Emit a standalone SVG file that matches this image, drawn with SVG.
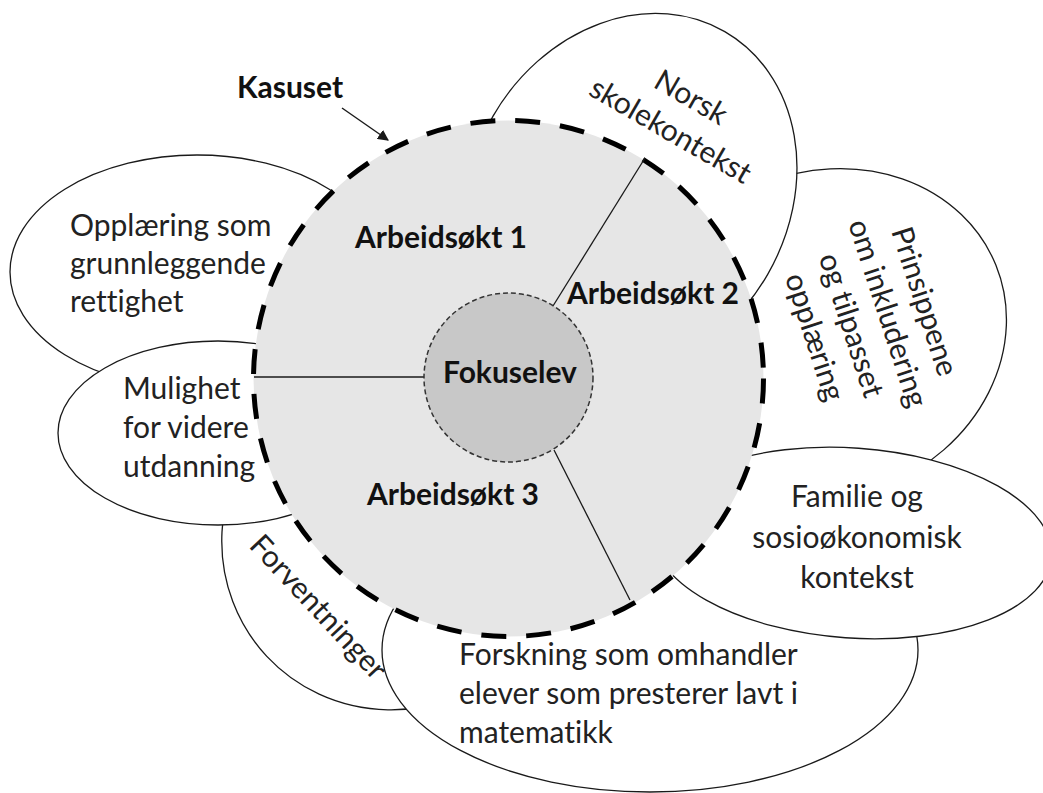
<svg xmlns="http://www.w3.org/2000/svg" width="1043" height="793" viewBox="0 0 1043 793">
<style>
.petal{fill:#fff;stroke:#1a1a1a;stroke-width:1.3}
.t{font-family:Lato,"Liberation Sans",sans-serif;font-size:30px;fill:#222;font-variant-ligatures:none}
.b{font-family:Lato,"Liberation Sans",sans-serif;font-size:30px;font-weight:700;fill:#111;font-variant-ligatures:none}
.mid{text-anchor:middle}
.spoke{stroke:#1a1a1a;stroke-width:1.3;fill:none}
</style>
<defs>
<marker id="ah" viewBox="0 0 10 10" refX="9" refY="5" markerWidth="11" markerHeight="11" markerUnits="userSpaceOnUse" orient="auto">
<path d="M0,0 L10,5 L0,10 z" fill="#1a1a1a"/>
</marker>
</defs>
<rect width="1043" height="793" fill="#fff"/>

<g id="opplaering">
<ellipse class="petal" cx="197" cy="272" rx="187" ry="117"/>
<text class="t" x="70" y="236">Opplæring som</text>
<text class="t" x="70" y="274">grunnleggende</text>
<text class="t" x="70" y="312">rettighet</text>
</g>

<g id="forventninger">
<ellipse class="petal" cx="0" cy="0" rx="172" ry="178" transform="translate(397,535) rotate(47)"/>
<text class="t mid" transform="translate(311,614) rotate(47)" x="0" y="0">Forventninger</text>
</g>

<g id="mulighet">
<ellipse class="petal" cx="218" cy="433" rx="160" ry="92"/>
<text class="t" x="123" y="399">Mulighet</text>
<text class="t" x="123" y="438">for videre</text>
<text class="t" x="123" y="477">utdanning</text>
</g>

<g id="prinsippene">
<ellipse class="petal" cx="0" cy="0" rx="163" ry="186" transform="translate(823.5,335) rotate(68)"/>
<g transform="translate(860,322.4) rotate(72)">
<text class="t mid" x="0" y="-57.75">Prinsippene</text>
<text class="t mid" x="0" y="-19.25">om inkludering</text>
<text class="t mid" x="0" y="19.25">og tilpasset</text>
<text class="t mid" x="0" y="57.75">opplæring</text>
</g>
</g>

<g id="norsk">
<ellipse class="petal" cx="0" cy="0" rx="158.5" ry="189" transform="translate(630.3,195.3) rotate(30)"/>
<g transform="translate(686,106.2) rotate(30)">
<text class="t mid" x="0" y="0">Norsk</text>
<text class="t mid" x="-1" y="39">skolekontekst</text>
</g>
</g>

<g id="forskning">
<ellipse class="petal" cx="650" cy="650" rx="268" ry="142"/>
<text class="t" x="459" y="665">Forskning som omhandler</text>
<text class="t" x="459" y="704">elever som presterer lavt i</text>
<text class="t" x="459" y="743">matematikk</text>
</g>

<g id="familie">
<ellipse class="petal" cx="0" cy="0" rx="200" ry="95" transform="translate(852,543) rotate(4)"/>
<text class="t mid" x="857" y="507">Familie og</text>
<text class="t mid" x="857" y="548">sosioøkonomisk</text>
<text class="t mid" x="857" y="588">kontekst</text>
</g>

<g id="kasuset">
<ellipse cx="508.5" cy="378.5" rx="255" ry="258" fill="#e6e6e6" stroke="#000" stroke-width="5" stroke-dasharray="25 20"/>
<text class="b" x="237" y="98">Kasuset</text>
<text class="b" x="355" y="248">Arbeidsøkt 1</text>
<text class="b" x="567" y="304">Arbeidsøkt 2</text>
<text class="b" x="367" y="505">Arbeidsøkt 3</text>
</g>

<g id="connectors">
<line class="spoke" x1="254" y1="377" x2="424" y2="377"/>
<line class="spoke" x1="553" y1="306" x2="645" y2="158"/>
<line class="spoke" x1="554" y1="450" x2="630" y2="600"/>
<line x1="342" y1="108" x2="388" y2="140" stroke="#1a1a1a" stroke-width="1.5" marker-end="url(#ah)"/>
</g>

<g id="fokuselev">
<circle cx="508.5" cy="377.5" r="84.5" fill="#c8c8c8" stroke="#333" stroke-width="1.5" stroke-dasharray="5 3"/>
<text class="b" x="443" y="383">Fokuselev</text>
</g>
</svg>
